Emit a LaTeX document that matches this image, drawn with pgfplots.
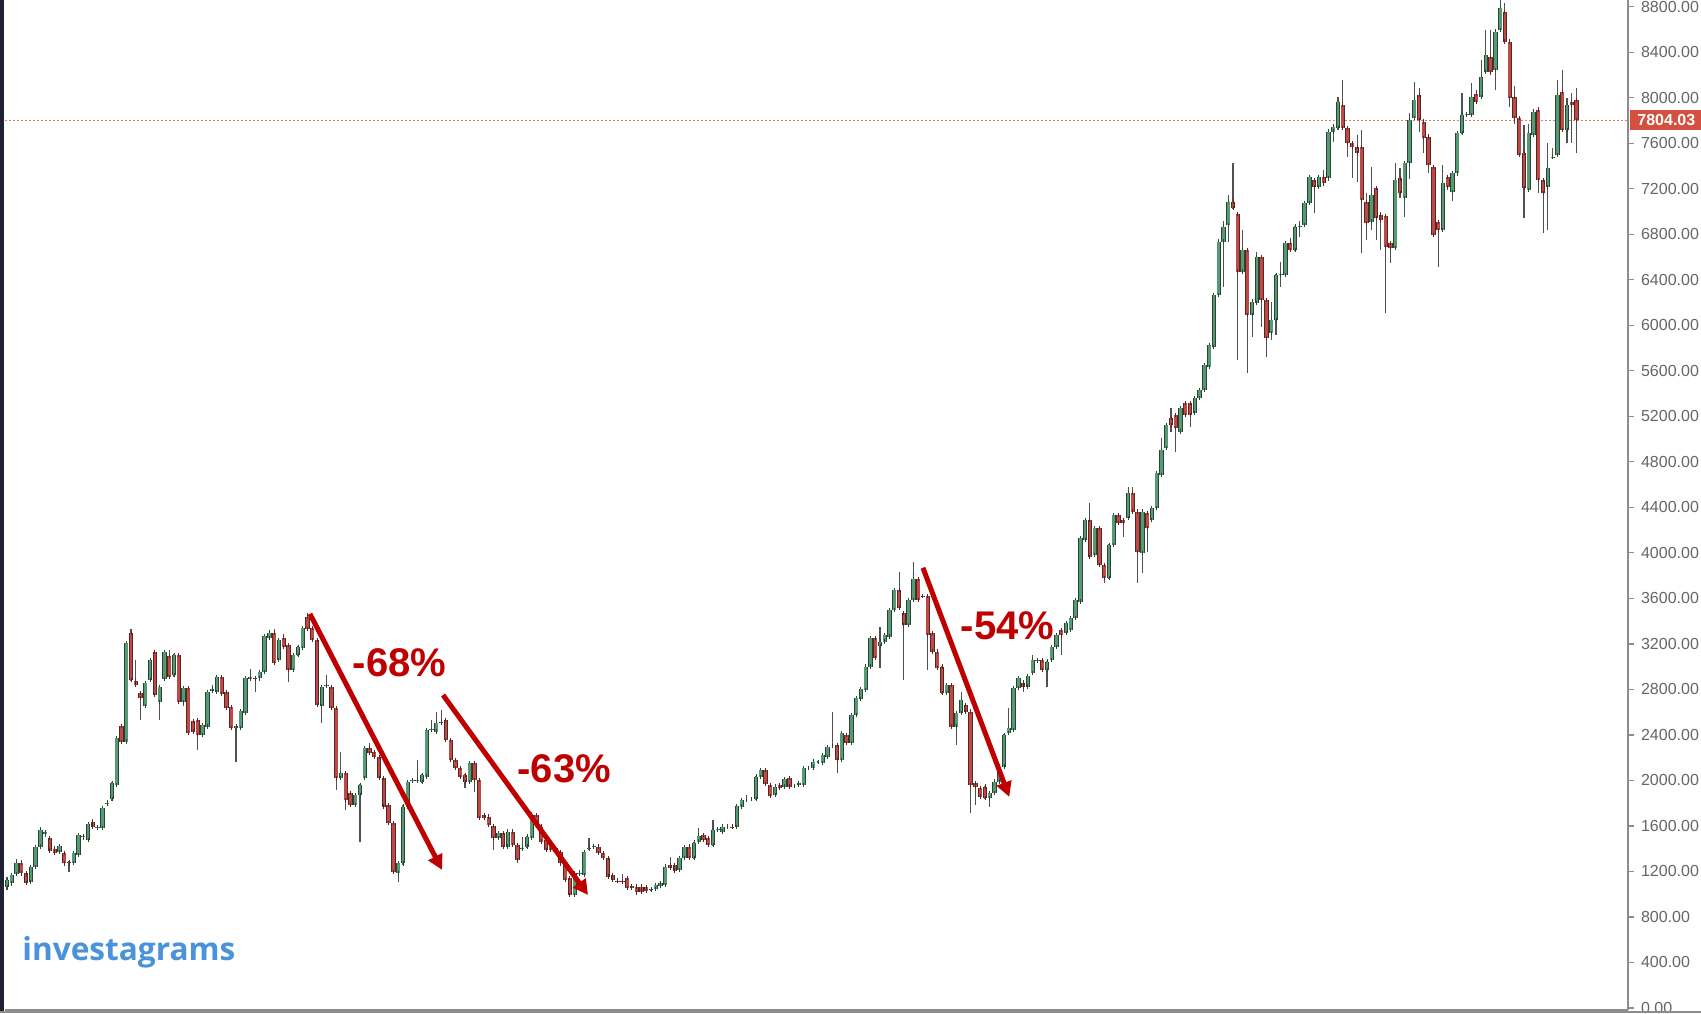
\documentclass[border=0pt]{standalone}
\usepackage{fontspec}
\setmainfont{Liberation Sans}
\newfontfamily\logofont{Open Sans}
\usepackage{pgfplots}
\pgfplotsset{compat=1.18}
\usepackage{pgfplotstable}
\usetikzlibrary{arrows.meta}

\definecolor{wick}{HTML}{505050}
\definecolor{gfill}{HTML}{559A72}
\definecolor{gline}{HTML}{2A4434}
\definecolor{rfill}{HTML}{BF4A45}
\definecolor{rline}{HTML}{552624}
\definecolor{axisgray}{HTML}{8C8C8C}
\definecolor{labelgray}{HTML}{666666}
\definecolor{pricered}{HTML}{D4503E}
\definecolor{pricedot}{HTML}{D9805F}
\definecolor{arrowred}{HTML}{C00000}
\definecolor{logoblue}{HTML}{4A93DA}
\definecolor{leftdark}{HTML}{1E2233}

% weekly candles: index, open, high, low, close
\pgfplotstableread{
x o h l c
0 1060 1150 1040 1125
1 1095 1185 1080 1169
2 1178 1306 1160 1271
3 1277 1300 1170 1183
4 1183 1200 1090 1101
5 1110 1260 1100 1242
6 1242 1430 1225 1418
7 1418 1594 1405 1564
8 1530 1560 1500 1545
9 1491 1500 1370 1383
10 1400 1420 1350 1365
11 1368 1430 1360 1424
12 1359 1365 1260 1271
13 1286 1295 1198 1271
14 1277 1370 1270 1359
15 1345 1530 1340 1520
16 1500 1520 1480 1512
17 1476 1630 1470 1617
18 1637 1660 1585 1594
19 1580 1600 1560 1590
20 1585 1770 1580 1755
21 1790 1830 1780 1800
22 1834 1990 1820 1975
23 1960 2380 1950 2370
24 2478 2490 2330 2340
25 2341 3215 2330 3205
26 3293 3330 2870 2883
27 2870 3059 2830 2840
28 2766 2780 2531 2722
29 2654 2870 2640 2853
30 2883 3070 2870 3059
31 3126 3140 2740 2751
32 2692 2830 2531 2818
33 2892 3145 2880 3132
34 3094 3150 2900 2912
35 2927 3115 2910 3103
36 3103 3115 2680 2692
37 2692 2830 2650 2810
38 2810 2825 2410 2420
39 2525 2540 2420 2430
40 2531 2545 2268 2399
41 2399 2495 2390 2487
42 2473 2790 2460 2780
43 2790 2840 2780 2805
44 2780 2920 2770 2906
45 2906 2925 2745 2757
46 2780 2790 2620 2634
47 2643 2650 2450 2458
48 2458 2480 2165 2475
49 2458 2620 2440 2610
50 2590 2905 2580 2897
51 2895 2980 2885 2905
52 2900 2920 2780 2895
53 2897 2970 2890 2956
54 2956 3280 2950 3270
55 3250 3310 3240 3300
56 3293 3330 3020 3030
57 3059 3240 3050 3234
58 3249 3290 3170 3176
59 3191 3200 2868 2971
60 2971 3110 2960 3103
61 3103 3185 3095 3176
62 3161 3345 3150 3337
63 3440 3470 3320 3330
64 3337 3345 3225 3235
65 3235 3240 2655 2663
66 2654 2830 2502 2824
67 2830 2925 2815 2835
68 2824 2835 2625 2634
69 2634 2640 1916 2019
70 2019 2253 2010 2068
71 2068 2075 1740 1828
72 1887 1895 1775 1784
73 1784 1880 1775 1872
74 1872 1965 1462 1960
75 2019 2290 2010 2282
76 2282 2326 2230 2238
77 2253 2270 2200 2209
78 2209 2215 2010 2019
79 2019 2025 1765 1770
80 1784 1790 1615 1623
81 1623 1630 1190 1198
82 1183 1280 1110 1271
83 1271 1780 1260 1770
84 1770 2000 1760 1989
85 1995 2015 1985 2004
86 2000 2180 1990 2005
87 1989 2055 1980 2048
88 2034 2450 2025 2443
89 2443 2531 2430 2450
90 2429 2605 2420 2502
91 2510 2620 2500 2517
92 2531 2545 2340 2355
93 2355 2360 2170 2180
94 2180 2190 2100 2107
95 2107 2115 2025 2033
96 2048 2060 1931 1989
97 1989 2165 1980 2156
98 2156 2165 1901 2004
99 2004 2010 1660 1667
100 1696 1705 1655 1667
101 1682 1690 1600 1608
102 1600 1610 1389 1491
103 1491 1545 1480 1535
104 1535 1545 1410 1418
105 1418 1560 1410 1550
106 1550 1560 1425 1433
107 1433 1440 1272 1301
108 1400 1500 1390 1410
109 1418 1515 1410 1506
110 1491 1726 1480 1696
111 1696 1705 1600 1608
112 1594 1600 1455 1462
113 1477 1485 1380 1389
114 1433 1440 1380 1389
115 1403 1410 1365 1374
116 1374 1380 1265 1271
117 1271 1280 1120 1125
118 1140 1150 985 993
119 993 1190 985 1183
120 1180 1200 1170 1190
121 1169 1380 1160 1374
122 1400 1494 1390 1410
123 1420 1435 1410 1425
124 1419 1425 1355 1360
125 1360 1365 1310 1316
126 1316 1320 1150 1155
127 1170 1175 1120 1126
128 1120 1130 1110 1118
129 1115 1178 1105 1112
130 1140 1145 1045 1052
131 1070 1075 1045 1052
132 1067 1075 1010 1015
133 1067 1070 1020 1023
134 1060 1065 1020 1030
135 1040 1050 1030 1042
136 1047 1090 1040 1082
137 1076 1105 1070 1097
138 1082 1250 1075 1243
139 1258 1330 1225 1228
140 1258 1270 1200 1208
141 1213 1320 1205 1316
142 1316 1420 1310 1413
143 1419 1425 1310 1316
144 1316 1460 1310 1454
145 1463 1580 1455 1512
146 1521 1525 1470 1477
147 1492 1500 1425 1433
148 1433 1653 1425 1565
149 1565 1580 1555 1570
150 1550 1600 1545 1594
151 1590 1620 1580 1590
152 1595 1600 1580 1590
153 1589 1780 1585 1776
154 1770 1840 1760 1829
155 1830 1870 1820 1830
156 1835 1845 1825 1835
157 1835 2040 1830 2034
158 2028 2100 2020 2092
159 2092 2100 1965 1970
160 1961 1965 1855 1864
161 1873 1950 1865 1946
162 1961 1970 1925 1931
163 1946 2015 1940 2010
164 2019 2025 1940 1946
165 1950 1960 1940 1950
166 1960 1985 1955 1980
167 1961 2115 1955 2107
168 2110 2120 2100 2110
169 2113 2170 2105 2166
170 2160 2170 2150 2160
171 2151 2230 2140 2224
172 2204 2300 2195 2292
173 2300 2605 2290 2300
174 2312 2320 2063 2180
175 2180 2420 2170 2415
176 2400 2410 2320 2327
177 2327 2580 2320 2576
178 2576 2730 2570 2722
179 2715 2810 2700 2801
180 2796 3010 2790 3001
181 3001 3255 2995 3250
182 3250 3260 3065 3074
183 3180 3350 2986 3220
184 3220 3290 3210 3279
185 3264 3510 3255 3499
186 3499 3690 3490 3674
187 3674 3836 3505 3513
188 3469 3475 2883 3367
189 3367 3600 3360 3587
190 3587 3918 3580 3768
191 3768 3780 3580 3587
192 3622 3640 3600 3620
193 3622 3630 2971 3279
194 3294 3300 3125 3133
195 3133 3140 2980 2986
196 3001 3005 2760 2766
197 2766 2845 2760 2839
198 2839 2845 2465 2473
199 2473 2595 2312 2590
200 2590 2780 2580 2707
201 2663 2670 2600 2605
202 2605 2610 1711 1960
203 1975 1985 1785 1946
204 1931 1940 1850 1858
205 1946 1950 1835 1843
206 1843 1895 1770 1887
207 1887 1995 1880 1990
208 1990 2125 1985 2122
209 2122 2405 2115 2400
210 2415 2634 2410 2458
211 2444 2815 2440 2810
212 2810 2905 2805 2898
213 2860 2870 2781 2825
214 2825 2925 2815 2919
215 2942 3103 2935 3059
216 3055 3070 3050 3060
217 3059 3065 2960 2971
218 2971 3050 2825 3045
219 3059 3180 3050 3176
220 3176 3285 3170 3279
221 3323 3330 3103 3279
222 3294 3390 3285 3381
223 3323 3430 3315 3425
224 3425 3590 3420 3587
225 3572 4140 3565 4129
226 4114 4300 4100 4290
227 4290 4436 3960 3967
228 3982 4225 3975 4216
229 4216 4225 3885 3894
230 3894 3900 3733 3777
231 3777 4080 3770 4070
232 4070 4340 4060 4334
233 4334 4345 4250 4260
234 4290 4300 4143 4260
235 4304 4583 4295 4524
236 4524 4583 4355 4363
237 4363 4370 3733 4011
238 3996 4370 3821 4363
239 4348 4355 4011 4216
240 4290 4400 4280 4392
241 4392 4710 4385 4700
242 4685 5008 4675 4905
243 4920 5135 4910 5125
244 5183 5271 5060 5125
245 5212 5220 4890 5095
246 5066 5280 5060 5271
247 5315 5320 5200 5212
248 5315 5330 5110 5212
249 5227 5365 5220 5359
250 5359 5440 5350 5432
251 5432 5660 5425 5652
252 5637 5835 5630 5828
253 5813 6275 5805 6267
254 6267 6740 6260 6736
255 6736 6920 6341 6868
256 6883 7150 6736 7088
257 7088 7425 7020 7029
258 6980 6990 5696 6473
259 6473 6839 6465 6663
260 6663 6680 5579 6092
261 6092 6215 5900 6209
262 6194 6648 6185 6604
263 6604 6610 5989 6223
264 6223 6230 5725 5887
265 5931 6209 5872 6048
266 6048 6450 5916 6443
267 6443 6560 6341 6450
268 6443 6740 6430 6721
269 6721 6770 6650 6663
270 6663 6875 6655 6868
271 6870 6920 6780 6875
272 6883 7080 6875 7073
273 7073 7310 7060 7307
274 7278 7290 6985 7219
275 7219 7320 7210 7307
276 7307 7366 7240 7248
277 7292 7710 7285 7703
278 7703 7760 7615 7747
279 7732 8010 7720 7966
280 7937 8157 7725 7732
281 7732 7740 7483 7600
282 7600 7610 7292 7571
283 7571 7673 7263 7512
284 7571 7717 6633 7102
285 7087 7165 6750 6897
286 6912 7395 6838 7146
287 7205 7215 6750 6941
288 6970 7000 6663 6926
289 6961 6980 6106 6692
290 6721 6730 6545 6677
291 6677 7424 6670 7278
292 7292 7380 7120 7161
293 7117 7430 6955 7424
294 7424 7870 7290 7805
295 7820 8142 7810 7981
296 8025 8084 7700 7805
297 7791 7800 7512 7644
298 7659 7665 7336 7410
299 7395 7400 6780 6794
300 6911 6920 6516 6838
301 6838 7410 6830 7249
302 7307 7320 7190 7219
303 7175 7345 7090 7336
304 7336 7700 7330 7688
305 7688 8040 7680 7849
306 7850 7865 7840 7855
307 7849 8127 7840 8010
308 8031 8070 7955 7966
309 8010 8333 8000 8186
310 8230 8596 8225 8376
311 8362 8600 8200 8230
312 8245 8600 8069 8582
313 8596 8860 8580 8787
314 8757 8830 8480 8494
315 8494 8500 7922 7996
316 8010 8100 7770 7820
317 7820 7830 7490 7498
318 7512 7760 6941 7205
319 7190 7770 7170 7688
320 7673 7893 7660 7879
321 7893 7920 7161 7278
322 7278 7290 6809 7161
323 7219 7600 6838 7380
324 7480 7560 7470 7483
325 7498 8157 7490 8025
326 8054 8245 7700 7717
327 7717 8000 7600 7937
328 7966 8040 7600 7937
329 7981 8084 7512 7804
}\candles

\begin{document}
\begin{tikzpicture}
\useasboundingbox (0,0) rectangle (850.5pt,506.5pt);
\clip (0,0) rectangle (850.5pt,506.5pt);
\fill[white] (0,0) rectangle (850.5pt,506.5pt);
\begin{axis}[
  at={(2.5pt,1.5pt)}, anchor=south west,
  scale only axis, width=811.5pt, height=505pt,
  xmin=-0.42, xmax=339.8, ymin=-18, ymax=8860,
  axis x line*=bottom, axis y line*=right,
  axis line style={color=axisgray, line width=1pt},
  xtick=\empty,
  ytick={0,400,...,8800},
  tick align=outside, major tick length=3pt,
  tick style={color=axisgray, line width=0.6pt},
  /pgf/number format/assume math mode=true,
  yticklabel style={font=\fontsize{8}{9}\selectfont, text=labelgray,
    /pgf/number format/.cd, fixed, fixed zerofill, precision=2, 1000 sep={}},
  unbounded coords=discard,
  clip=false,
]
% last price line
\draw[pricedot, line width=0.6pt, dash pattern=on 1pt off 1pt]
  (axis cs:-0.42,7804.03) -- (axis cs:339.8,7804.03);

% wicks
\addplot[draw=none,
  error bars/.cd, y dir=both, y explicit, error mark=none,
  error bar style={line width=0.55pt, color=wick}]
  table[x=x, y=c, y error plus expr={\thisrow{h}-\thisrow{c}},
        y error minus expr={\thisrow{c}-\thisrow{l}}] {\candles};

% rising candles
\addplot[draw=none,
  error bars/.cd, y dir=both, y explicit, error mark=none,
  error bar style={line width=2.15pt, color=gline}]
  table[x=x, y expr={\thisrow{c}<\thisrow{o} ? nan : \thisrow{c}},
        y error plus expr=0,
        y error minus expr={\thisrow{c}-\thisrow{o}}] {\candles};
\addplot[draw=none,
  error bars/.cd, y dir=both, y explicit, error mark=-,
  error mark options={mark size=1.07pt, line width=0.45pt, color=gline},
  error bar style={line width=1.35pt, color=gfill}]
  table[x=x, y expr={\thisrow{c}<\thisrow{o} ? nan : \thisrow{c}},
        y error plus expr=0,
        y error minus expr={\thisrow{c}-\thisrow{o}}] {\candles};

% falling candles
\addplot[draw=none,
  error bars/.cd, y dir=both, y explicit, error mark=none,
  error bar style={line width=2.15pt, color=rline}]
  table[x=x, y expr={\thisrow{c}<\thisrow{o} ? \thisrow{c} : nan},
        y error plus expr={\thisrow{o}-\thisrow{c}},
        y error minus expr=0] {\candles};
\addplot[draw=none,
  error bars/.cd, y dir=both, y explicit, error mark=-,
  error mark options={mark size=1.07pt, line width=0.45pt, color=rline},
  error bar style={line width=1.35pt, color=rfill}]
  table[x=x, y expr={\thisrow{c}<\thisrow{o} ? \thisrow{c} : nan},
        y error plus expr={\thisrow{o}-\thisrow{c}},
        y error minus expr=0] {\candles};

% drawdown arrows
\draw[arrowred, line width=2.5pt, -{Triangle[length=7.5pt,width=7.5pt]}]
  (axis cs:63.5,3464) -- (axis cs:91.2,1213);
\draw[arrowred, line width=2.5pt, -{Triangle[length=7.5pt,width=7.5pt]}]
  (axis cs:91.4,2751) -- (axis cs:121.8,993);
\draw[arrowred, line width=2.5pt, -{Triangle[length=7.5pt,width=7.5pt]}]
  (axis cs:192,3869) -- (axis cs:210.1,1855);
\node[text=arrowred, font=\bfseries\fontsize{20}{24}\selectfont] at (axis cs:82.3,3037) {-68\%};
\node[text=arrowred, font=\bfseries\fontsize{20}{24}\selectfont] at (axis cs:116.8,2101) {-63\%};
\node[text=arrowred, font=\bfseries\fontsize{20}{24}\selectfont] at (axis cs:209.7,3358) {-54\%};
\end{axis}

\fill[leftdark] (0,0) rectangle (2.2pt,506.5pt);
\fill[axisgray] (0,0) rectangle (850.5pt,1.2pt);
\fill[pricered] (815pt,441.4pt) rectangle (850.5pt,451.4pt);
\node[anchor=west, inner sep=0pt, text=white, font=\bfseries\fontsize{8}{9}\selectfont]
  at (818.5pt,446.4pt) {7804.03};
\node[anchor=base west, inner sep=0pt, text=logoblue, font=\logofont\bfseries\fontsize{15.8}{18}\selectfont]
  at (11pt,26.5pt) {investagrams};
\end{tikzpicture}
\end{document}
